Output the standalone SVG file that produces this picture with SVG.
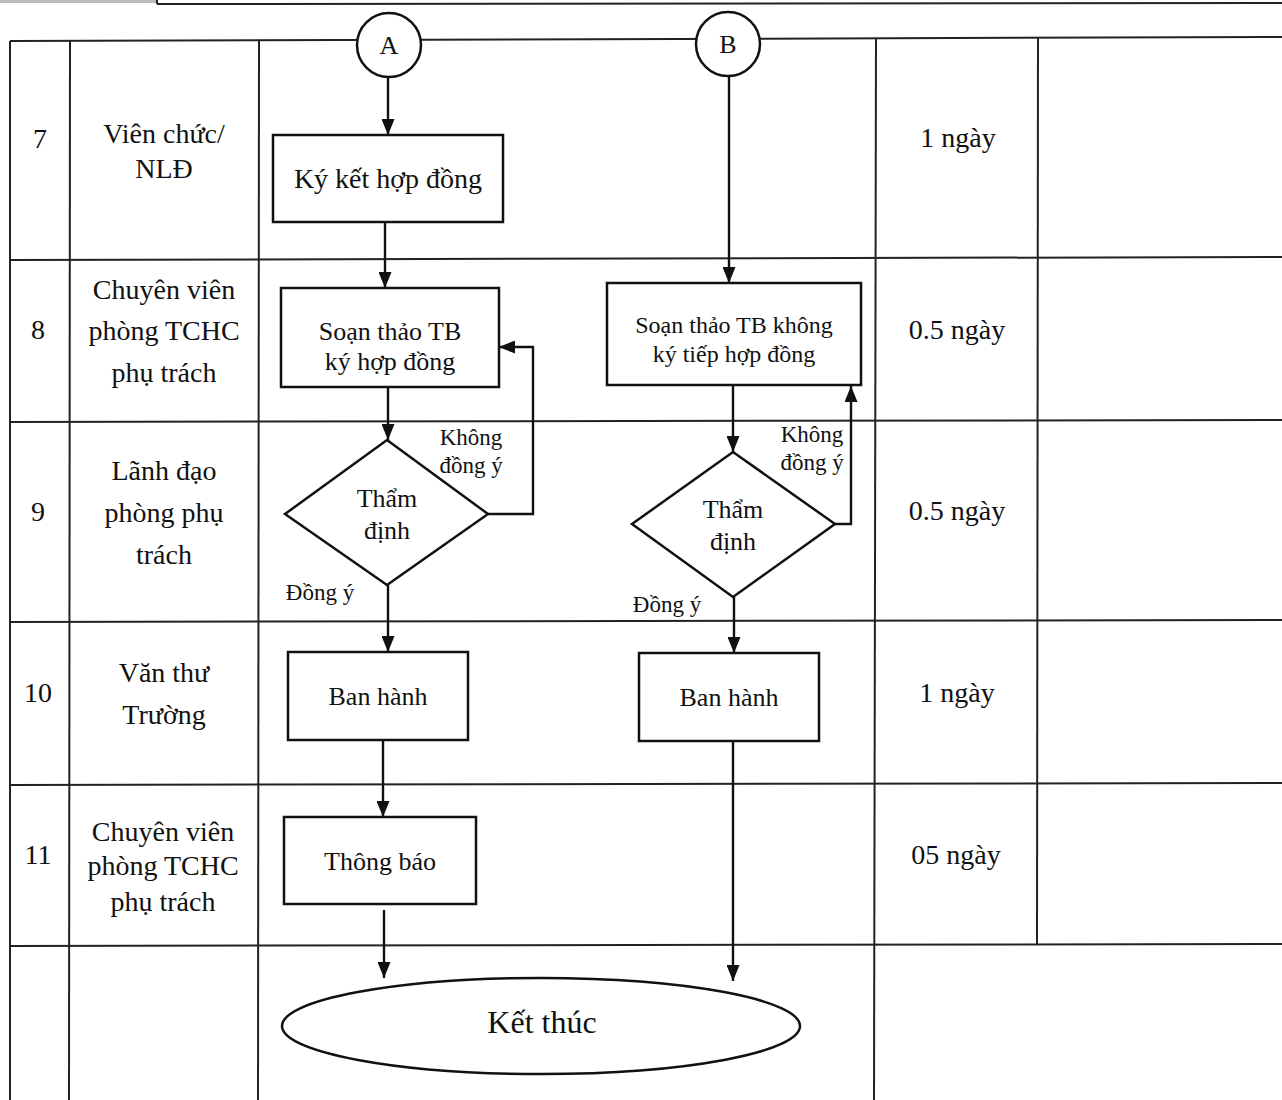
<svg xmlns="http://www.w3.org/2000/svg" width="1282" height="1100" viewBox="0 0 1282 1100">
<defs>
<marker id="arr" viewBox="0 0 16 13" refX="16" refY="6.5" markerWidth="16" markerHeight="13" markerUnits="userSpaceOnUse" orient="auto">
<path d="M0,0 L16,6.5 L0,13 Z" fill="#111"/>
</marker>
</defs>
<style>
.grid{stroke:#222;stroke-width:2;fill:none}
.shape{stroke:#111;stroke-width:2.5;fill:#fff}
.conn{stroke:#111;stroke-width:2.4;fill:none}
text{font-family:"Liberation Serif","Times New Roman",serif;fill:#111;text-anchor:middle}
.t28{font-size:28px}
.t26{font-size:26px}
.t24{font-size:24px}
.t23{font-size:23px}
.t32{font-size:32px}
</style>
<rect width="1282" height="1100" fill="#fff"/>
<g id="header-fragment">
<rect x="0" y="0" width="156" height="3" fill="#bbb"/>
<line x1="157" y1="0" x2="157" y2="4" class="grid"/>
<line x1="157" y1="4" x2="1282" y2="3" class="grid" stroke-width="2.5"/>
</g>
<g id="table">
<line x1="10" y1="41" x2="1282" y2="37" class="grid"/>
<line x1="10" y1="260" x2="1282" y2="257" class="grid"/>
<line x1="10" y1="422" x2="1282" y2="420" class="grid"/>
<line x1="10" y1="622" x2="1282" y2="620" class="grid"/>
<line x1="10" y1="785" x2="1282" y2="783" class="grid"/>
<line x1="10" y1="946" x2="1282" y2="944" class="grid"/>
<line x1="10" y1="41" x2="10" y2="1100" class="grid"/>
<line x1="70" y1="41" x2="69" y2="1100" class="grid"/>
<line x1="259" y1="40" x2="258" y2="1100" class="grid"/>
<line x1="876" y1="38" x2="874" y2="1100" class="grid"/>
<line x1="1038" y1="38" x2="1037" y2="944" class="grid"/>
</g>
<g id="col-step">
<text class="t28" x="40" y="148">7</text>
<text class="t28" x="38" y="339">8</text>
<text class="t28" x="38" y="521">9</text>
<text class="t28" x="38" y="702">10</text>
<text class="t28" x="38" y="864">11</text>
</g>
<g id="col-actor">
<text class="t28" x="164" y="143">Viên chức/</text>
<text class="t28" x="164" y="178">NLĐ</text>
<text class="t28" x="164" y="299">Chuyên viên</text>
<text class="t28" x="164" y="340">phòng TCHC</text>
<text class="t28" x="164" y="382">phụ trách</text>
<text class="t28" x="164" y="480">Lãnh đạo</text>
<text class="t28" x="164" y="522">phòng phụ</text>
<text class="t28" x="164" y="564">trách</text>
<text class="t28" x="164" y="682">Văn thư</text>
<text class="t28" x="164" y="724">Trường</text>
<text class="t28" x="163" y="841">Chuyên viên</text>
<text class="t28" x="163" y="875">phòng TCHC</text>
<text class="t28" x="163" y="911">phụ trách</text>
</g>
<g id="col-time">
<text class="t28" x="958" y="147">1 ngày</text>
<text class="t28" x="957" y="339">0.5 ngày</text>
<text class="t28" x="957" y="520">0.5 ngày</text>
<text class="t28" x="957" y="702">1 ngày</text>
<text class="t28" x="956" y="864">05 ngày</text>
</g>
<g id="connectors">
<line x1="388" y1="77" x2="388" y2="135" class="conn" marker-end="url(#arr)"/>
<line x1="385" y1="222" x2="385" y2="288" class="conn" marker-end="url(#arr)"/>
<line x1="388" y1="387" x2="388" y2="440" class="conn" marker-end="url(#arr)"/>
<polyline points="488,514 533,514 533,347 499,347" class="conn" marker-end="url(#arr)"/>
<line x1="388" y1="585" x2="388" y2="652" class="conn" marker-end="url(#arr)"/>
<line x1="383" y1="740" x2="383" y2="817" class="conn" marker-end="url(#arr)"/>
<line x1="384" y1="910" x2="384" y2="978" class="conn" marker-end="url(#arr)"/>
<line x1="729" y1="76" x2="729" y2="283" class="conn" marker-end="url(#arr)"/>
<line x1="733" y1="385" x2="733" y2="452" class="conn" marker-end="url(#arr)"/>
<polyline points="835,524 851,524 851,386" class="conn" marker-end="url(#arr)"/>
<line x1="734" y1="597" x2="734" y2="653" class="conn" marker-end="url(#arr)"/>
<line x1="733" y1="741" x2="733" y2="981" class="conn" marker-end="url(#arr)"/>
</g>
<g id="node-A">
<circle cx="389" cy="45" r="32" class="shape"/>
<text class="t26" x="389" y="54">A</text>
</g>
<g id="node-B">
<circle cx="728" cy="44" r="32" class="shape"/>
<text class="t26" x="728" y="53">B</text>
</g>
<g id="node-kyket">
<rect x="273" y="135" width="230" height="87" class="shape"/>
<text class="t28" x="388" y="188">Ký kết hợp đồng</text>
</g>
<g id="node-soanthao1">
<rect x="281" y="288" width="218" height="99" class="shape"/>
<text class="t26" x="390" y="340">Soạn thảo TB</text>
<text class="t26" x="390" y="370">ký hợp đồng</text>
</g>
<g id="node-thamdinh1">
<polygon points="387,440 488,514 387,585 285,514" class="shape"/>
<text class="t26" x="387" y="507">Thẩm</text>
<text class="t26" x="387" y="539">định</text>
</g>
<g id="labels-1">
<text class="t23" x="471" y="445">Không</text>
<text class="t23" x="471" y="473">đồng ý</text>
<text class="t23" x="320" y="600">Đồng ý</text>
</g>
<g id="node-banhanh1">
<rect x="288" y="652" width="180" height="88" class="shape"/>
<text class="t26" x="378" y="705">Ban hành</text>
</g>
<g id="node-thongbao">
<rect x="284" y="817" width="192" height="87" class="shape"/>
<text class="t26" x="380" y="870">Thông báo</text>
</g>
<g id="node-soanthao2">
<rect x="607" y="283" width="254" height="102" class="shape"/>
<text class="t24" x="734" y="333">Soạn thảo TB không</text>
<text class="t24" x="734" y="362">ký tiếp hợp đồng</text>
</g>
<g id="node-thamdinh2">
<polygon points="733,452 835,524 733,597 632,524" class="shape"/>
<text class="t26" x="733" y="518">Thẩm</text>
<text class="t26" x="733" y="550">định</text>
</g>
<g id="labels-2">
<text class="t23" x="812" y="442">Không</text>
<text class="t23" x="812" y="470">đồng ý</text>
<text class="t23" x="667" y="612">Đồng ý</text>
</g>
<g id="node-banhanh2">
<rect x="639" y="653" width="180" height="88" class="shape"/>
<text class="t26" x="729" y="706">Ban hành</text>
</g>
<g id="node-ketthuc">
<ellipse cx="541" cy="1026" rx="259" ry="48" class="shape"/>
<text class="t32" x="542" y="1033">Kết thúc</text>
</g>
</svg>
